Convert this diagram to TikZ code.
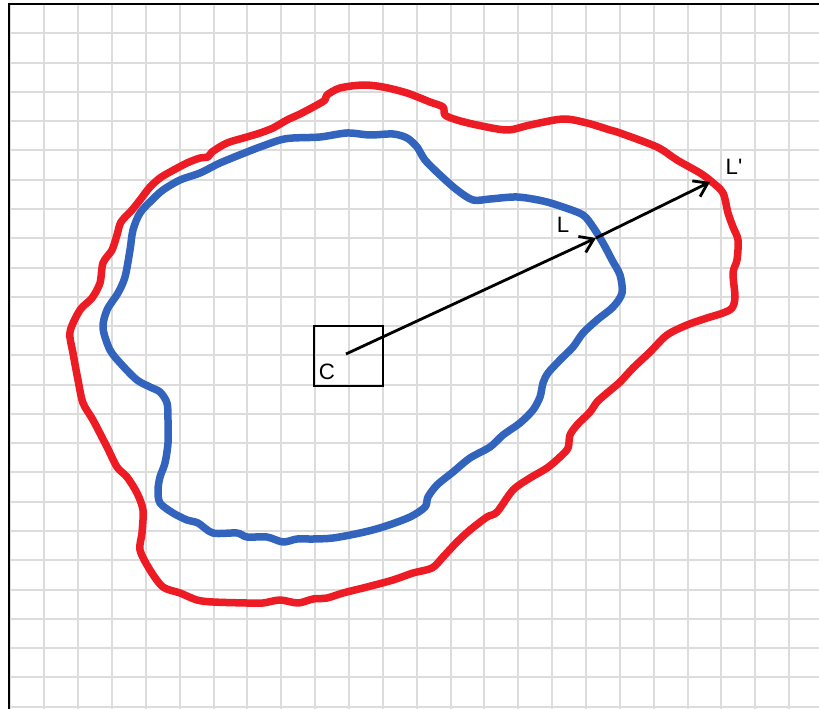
\documentclass[tikz,border=0pt]{standalone}
\usepackage{fontspec}
\newfontfamily\labelfont{Liberation Sans}
\usetikzlibrary{arrows.meta}
\definecolor{gridgray}{RGB}{220,220,220}
\definecolor{blobred}{RGB}{237,28,36}
\definecolor{blobblue}{RGB}{50,100,190}
\begin{document}
\begin{tikzpicture}[x=0.03cm,y=-0.03cm,
  gridline/.style={draw=gridgray,line width=1.7pt},
  blob/.style={line width=6.4pt,line join=round,line cap=round},
  ray/.style={line width=2.4pt,-{Straight Barb[length=11pt,width=15pt,line width=2.4pt]}},
  lbl/.style={font=\labelfont\fontsize{19}{22}\selectfont,inner sep=0pt}]
  \useasboundingbox (0,0) rectangle (819,709);
  \fill[white] (0,0) rectangle (819,709);
  \foreach \k in {0,...,23}
    \draw[gridline] ({10.4+33.86*\k},4) -- ({10.4+33.86*\k},709);
  \foreach \j in {0,...,24}
    \draw[gridline] (9,{4+29.28*\j}) -- (819,{4+29.28*\j});
  \draw[line width=1.8pt] (9,709) -- (9,4) -- (819,4);
  \draw[blob,blobred] plot[smooth cycle,tension=0.5] coordinates {
    (70,332) (80,310) (92,298) (100,283) (103,263) (112,250) (117,235)
    (121,222) (132,210) (140,200) (150,187) (160,178) (170,172) (187,163)
    (200,158) (208,157) (212,152) (227,143) (247,137) (260,133) (273,128)
    (287,120) (300,114) (317,105) (325,100) (327,95) (340,88) (363,85)
    (383,87) (407,93) (430,102) (443,107) (445,115) (457,120) (477,125)
    (507,130) (530,125) (563,119) (587,123) (610,130) (620,133) (657,147)
    (677,160) (700,173) (712,182) (723,193) (728,213) (733,227) (738,240)
    (737,260) (733,273) (735,297) (732,308) (723,313) (707,318) (687,325)
    (667,335) (650,352) (633,368) (620,382) (607,393) (597,402) (590,412)
    (577,425) (570,435) (568,448) (560,457) (547,468) (530,478) (513,490)
    (497,512) (487,517) (470,530) (457,542) (443,557) (432,568) (413,573)
    (393,580) (367,587) (343,593) (327,598) (313,599) (298,603) (280,600)
    (263,603) (247,603) (213,602) (197,600) (180,593) (163,587) (150,570)
    (140,550) (142,533) (143,510) (137,493) (127,477) (117,467) (107,447)
    (93,420) (83,403) (78,380) (73,353)};
  \draw[blob,blobblue] plot[smooth cycle,tension=0.5] coordinates {
    (103,328) (107,310) (118,293) (125,277) (130,250) (133,230) (140,213)
    (152,200) (163,190) (180,180) (200,173) (220,163) (247,152) (260,147)
    (280,140) (293,138) (320,137) (347,133) (370,135) (393,134) (407,138)
    (417,147) (425,160) (440,175) (457,190) (473,200) (490,199) (517,197)
    (543,201) (563,207) (583,215) (593,227) (603,243) (612,260) (620,275)
    (622,293) (613,307) (597,320) (583,333) (573,347) (560,360) (548,373)
    (543,383) (540,397) (533,410) (520,423) (503,435) (490,447) (470,458)
    (453,472) (437,485) (428,497) (425,507) (410,517) (383,527) (360,533)
    (333,538) (313,539) (297,539) (283,542) (267,537) (247,537) (237,533)
    (213,533) (198,523) (187,520) (173,513) (160,503) (158,490) (160,477)
    (165,463) (168,443) (168,420) (167,403) (160,392) (150,387) (137,380)
    (122,365) (110,350)};
  \draw[line width=2pt] (314,326) rectangle (383,386);
  \coordinate (C) at (346,354);
  \coordinate (L) at (596,238);
  \coordinate (Lp) at (710,182);
  \draw[ray] (C) -- (L);
  \draw[ray] (L) -- (Lp);
  \node[lbl] (lblC) at (327,372) {C};
  \node[lbl] (lblL) at (563,225) {L};
  \node[lbl] (lblLp) at (734,167) {L'};
\end{tikzpicture}
\end{document}
